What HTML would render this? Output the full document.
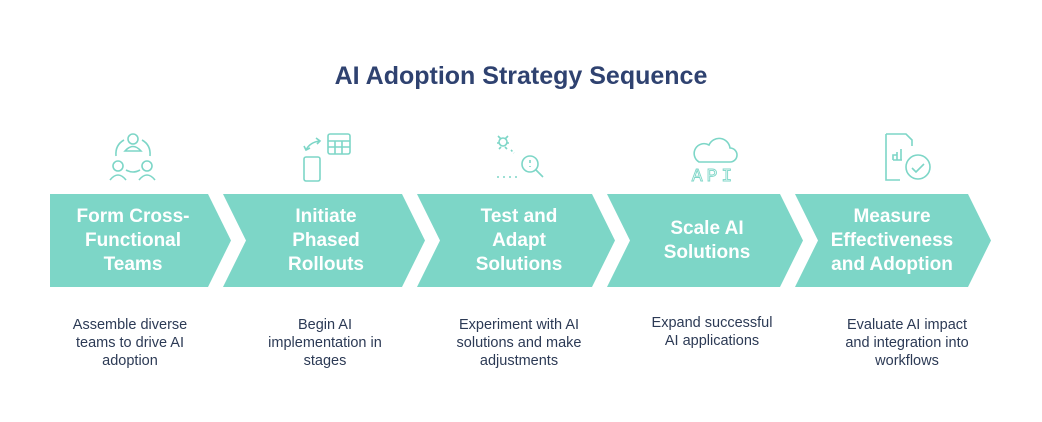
<!DOCTYPE html>
<html><head><meta charset="utf-8"><style>
body{margin:0;width:1042px;height:422px;background:#fff;overflow:hidden;position:relative;font-family:"Liberation Sans",Arial,sans-serif}
.t{position:absolute;top:62px;left:0;width:1042px;text-align:center;font-weight:bold;font-size:25px;color:#2f4270}
.c{position:absolute;text-align:center;color:#fff;font-weight:bold;font-size:19px;line-height:24px;width:180px}
.d{position:absolute;text-align:center;color:#2c3a55;font-size:14.5px;line-height:18px;width:180px;top:316px}
</style></head><body>
<div class="t">AI Adoption Strategy Sequence</div>
<svg width="1042" height="422" style="position:absolute;left:0;top:0">
<g fill="#7dd6c7">
<polygon points="50,194 208,194 231,240.5 208,287 50,287"/>
<polygon points="223,194 402,194 425,240.5 402,287 223,287 246,240.5"/>
<polygon points="417,194 592,194 615,240.5 592,287 417,287 440,240.5"/>
<polygon points="607,194 780,194 803,240.5 780,287 607,287 630,240.5"/>
<polygon points="795,194 968,194 991,240.5 968,287 795,287 818,240.5"/>
</g>
<g fill="none" stroke="#7dd6c7" stroke-width="1.6">
<circle cx="133" cy="139" r="5"/><path d="M125,151 q8,-9 16,0 z"/>
<circle cx="118" cy="166" r="5"/><path d="M110,180 q8,-10 16,0"/>
<circle cx="147" cy="166" r="5"/><path d="M139,180 q8,-10 16,0"/>
<path d="M124,140 q-9,5 -8,16"/><path d="M142,140 q9,5 8,16"/><path d="M126,170 q7,4 14,0"/>
<rect x="328" y="134" width="22" height="20" rx="2"/><path d="M328,141 h22 M328,147 h22 M335,141 v13 M342,141 v13"/>
<rect x="304" y="157" width="16" height="24" rx="2"/>
<path d="M306,150 q4,-8 14,-9"/><path d="M304,146 l2,4 4,-2"/><path d="M316,138 l4,3 -3,3"/>
<circle cx="503" cy="142" r="4"/><path d="M498,136 l3,3 M508,136 l-3,3 M497,143 h2 M507,143 h2 M499,149 l2,-2 M507,149 l-2,-2"/>
<path d="M511,150 l3,3" stroke-dasharray="2 2"/>
<circle cx="530" cy="164" r="8"/><path d="M536,170 l7,7"/><path d="M530,160 v3 M530,166 v1"/>
<path d="M497,177 h24" stroke-dasharray="2 4"/>
<path d="M699,162 h31 a7,7 0 0 0 0,-14 a11,11 0 0 0 -21,-3 a8,8 0 0 0 -10,17 z"/>
<path d="M886,134 h20 l6,6 v6 M886,134 v46 h14"/>
<path d="M893,160 v-5 h4 v5 M897,160 v-8 M893,160 h9 M901,160 v-11"/>
<circle cx="918" cy="167" r="12"/><path d="M912,168 l4,4 8,-8"/>
</g>
<text x="714" y="181" text-anchor="middle" font-family="Liberation Mono,monospace" font-size="18" fill="none" stroke="#7dd6c7" stroke-width="0.9" letter-spacing="4">API</text>
</svg>
<div class="c" style="left:43px;top:205px">Form Cross-<br>Functional<br>Teams</div>
<div class="c" style="left:236px;top:205px">Initiate<br>Phased<br>Rollouts</div>
<div class="c" style="left:429px;top:205px">Test and<br>Adapt<br>Solutions</div>
<div class="c" style="left:617px;top:217px">Scale AI<br>Solutions</div>
<div class="c" style="left:802px;top:205px">Measure<br>Effectiveness<br>and Adoption</div>
<div class="d" style="left:40px">Assemble diverse<br>teams to drive AI<br>adoption</div>
<div class="d" style="left:235px">Begin AI<br>implementation in<br>stages</div>
<div class="d" style="left:429px">Experiment with AI<br>solutions and make<br>adjustments</div>
<div class="d" style="left:622px;top:314px">Expand successful<br>AI applications</div>
<div class="d" style="left:817px">Evaluate AI impact<br>and integration into<br>workflows</div>
</body></html>
